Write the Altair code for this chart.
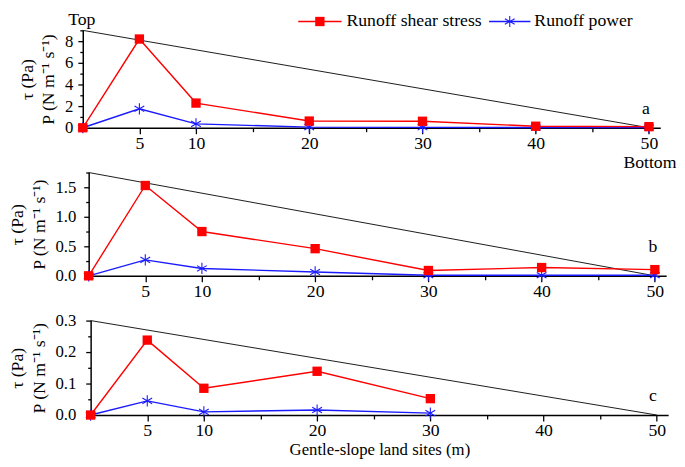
import altair as alt
import pandas as pd

# ---------------- data ----------------
sites = [0, 5, 10, 20, 30, 40, 50]
shear_a = [0, 8.2, 2.28, 0.62, 0.6, 0.14, 0.1]
power_a = [0, 1.75, 0.36, 0.06, 0.04, 0.02, 0.02]
slope_a = [9, 0]

shear_b = [0, 1.53, 0.75, 0.46, 0.09, 0.14, 0.105]
power_b = [0, 0.27, 0.125, 0.065, 0.01, 0.01, 0.01]
slope_b = [1.75, 0]

sites_c = [0, 5, 10, 20, 30]
shear_c = [0, 0.238, 0.085, 0.139, 0.052]
power_c = [0, 0.045, 0.01, 0.016, 0.006]
slope_c = [0.3, 0]

slope_sites = [0, 50]
series_names = ["Runoff shear stress", "Runoff power"]
series_colors = ["#ff0000", "#1a1aff"]
x_ticks = [5, 10, 15, 20, 25, 30, 35, 40, 45, 50]
x_title = "Gentle-slope land sites (m)"
y_title = ["\u03c4 (Pa)", "P (N m\u207b\u00b9 s\u207b\u00b9)"]
panel_letters = ["a", "b", "c"]

FONT = "Liberation Serif"
ASTERISK = "M0,-1L0,1M-0.87,-0.5L0.87,0.5M-0.87,0.5L0.87,-0.5"
W = 587


def x_axis(show_title):
    minor = "datum.value % 10 == 5 && datum.value > 5"
    kw = dict(
        values=x_ticks,
        labelExpr=f"({minor}) ? '' : datum.label",
        tickSize={"condition": {"test": minor, "value": 4}, "value": 6},
        grid=False,
        domainColor="black",
        tickColor="black",
        domainWidth=1.5,
        tickWidth=1.3,
        labelFontSize=18,
        labelPadding=1,
        labelColor="black",
        labelFont=FONT,
    )
    if show_title:
        kw.update(title=x_title, titleFontSize=17, titleFont=FONT, titleFontWeight="normal",
                  titleColor="black", titlePadding=2)
    else:
        kw.update(title=None)
    return alt.Axis(**kw)


def y_axis(ymax, step, fmt, offset, lpad):
    n = int(round(ymax / step))
    vals = [round(i * step, 4) for i in range(n + 1)]
    test = f"round(datum.value / {step}) % 2 == 1"
    return alt.Axis(
        values=vals,
        format=fmt,
        offset=offset,
        minExtent=0,
        labelExpr=f"{test} ? '' : datum.label",
        tickSize={"condition": {"test": test, "value": 3}, "value": 5},
        grid=False,
        domainColor="black",
        tickColor="black",
        domainWidth=1.5,
        tickWidth=1.3,
        labelFontSize=17,
        labelPadding=lpad,
        labelColor="black",
        labelFont=FONT,
        title=y_title,
        titleFontSize=18,
        titleFont=FONT,
        titleFontWeight="normal",
        titleColor="black",
        titleLineHeight=22,
        titlePadding=7,
    )


def panel(xs, shear, power, slope, ymax, step, fmt, letter, ldx, ldy, h, show_title,
          xshift, lpad, extras=None):
    xsc = alt.Scale(domain=[0, 51], nice=False, zero=False, range=[xshift, W + xshift])
    ysc = alt.Scale(domain=[0, ymax], nice=False)
    X = alt.X("site:Q", scale=xsc, axis=x_axis(show_title))
    Y = alt.Y("v:Q", scale=ysc, axis=y_axis(ymax, step, fmt, -xshift, lpad))

    slope_df = pd.DataFrame({"site": slope_sites, "v": slope})
    sh = pd.DataFrame({"site": xs, "v": shear})
    pw = pd.DataFrame({"site": xs, "v": power})

    line_slope = alt.Chart(slope_df).mark_line(color="black", strokeWidth=0.9).encode(x=X, y=Y)
    l_sh = alt.Chart(sh).mark_line(color=series_colors[0], strokeWidth=1.4).encode(x=X, y=Y)
    l_pw = alt.Chart(pw).mark_line(color=series_colors[1], strokeWidth=1.4).encode(x=X, y=Y)
    p_sh = alt.Chart(sh).mark_point(shape="square", filled=True, size=90, opacity=1,
                                    color=series_colors[0]).encode(x=X, y=Y)
    p_pw = alt.Chart(pw).mark_point(shape=ASTERISK, filled=False, size=130, opacity=1,
                                    strokeWidth=1.1, color=series_colors[1]).encode(x=X, y=Y)

    lab_df = pd.DataFrame({"site": [slope_sites[-1]], "v": [0], "t": [letter]})
    lab = alt.Chart(lab_df).mark_text(font=FONT, fontSize=18, dx=ldx, dy=ldy, color="black").encode(
        x=X, y=Y, text="t:N")

    layers = [line_slope, l_pw, l_sh, p_pw, p_sh, lab]
    if extras:
        layers += extras(X, Y)
    return alt.layer(*layers).properties(width=W, height=h)


def top_extras(X, Y):
    top_df = pd.DataFrame({"site": [0], "v": [slope_a[0]], "t": ["Top"]})
    bot_df = pd.DataFrame({"site": [slope_sites[-1]], "v": [0], "t": ["Bottom"]})
    t1 = alt.Chart(top_df).mark_text(font=FONT, fontSize=18, dx=-1, dy=-10, color="black").encode(
        x=X, y=Y, text="t:N")
    t2 = alt.Chart(bot_df).mark_text(font=FONT, fontSize=18, dx=1, dy=36, color="black").encode(
        x=X, y=Y, text="t:N")
    # hand-drawn legend (decoration, positioned in pixels above the plot)
    leg = pd.DataFrame({"t": [0]})
    ly = -9
    items = []
    for name, col, x0, length, gap, shape, filled, size in [
        (series_names[0], series_colors[0], 213, 44, 5, "square", True, 90),
        (series_names[1], series_colors[1], 407, 42, 4, ASTERISK, False, 130),
    ]:
        items.append(alt.Chart(leg).mark_rule(color=col, strokeWidth=1.4).encode(
            x=alt.value(x0), x2=alt.value(x0 + length), y=alt.value(ly)))
        items.append(alt.Chart(leg).mark_point(shape=shape, filled=filled, size=size, opacity=1,
                                               strokeWidth=1.1, color=col).encode(
            x=alt.value(x0 + length / 2), y=alt.value(ly)))
        items.append(alt.Chart(pd.DataFrame({"t": [name]})).mark_text(
            font=FONT, fontSize=18, align="left", baseline="middle", color="black").encode(
            x=alt.value(x0 + length + gap), y=alt.value(ly), text="t:N"))
    return [t1, t2] + items


pa = panel(sites, shear_a, power_a, slope_a, 9, 1, "d", panel_letters[0], -3, -19, 99, False,
           -6, 5, top_extras)
pb = panel(sites, shear_b, power_b, slope_b, 1.75, 0.25, ".1f", panel_letters[1], -2, -29, 105, False,
           0, 8)
pc = panel(sites_c, shear_c, power_c, slope_c, 0.3, 0.05, ".1f", panel_letters[2], -4, -19, 96, True,
           2, 10)

chart = alt.vconcat(pa, pb, pc, spacing=45.5, bounds="flush").properties(
    padding={"left": 0, "top": 0, "right": 0, "bottom": 0}
).configure(font=FONT).configure_view(stroke=None)

chart.save("out.html", embed_options={"renderer": "svg", "actions": False})
